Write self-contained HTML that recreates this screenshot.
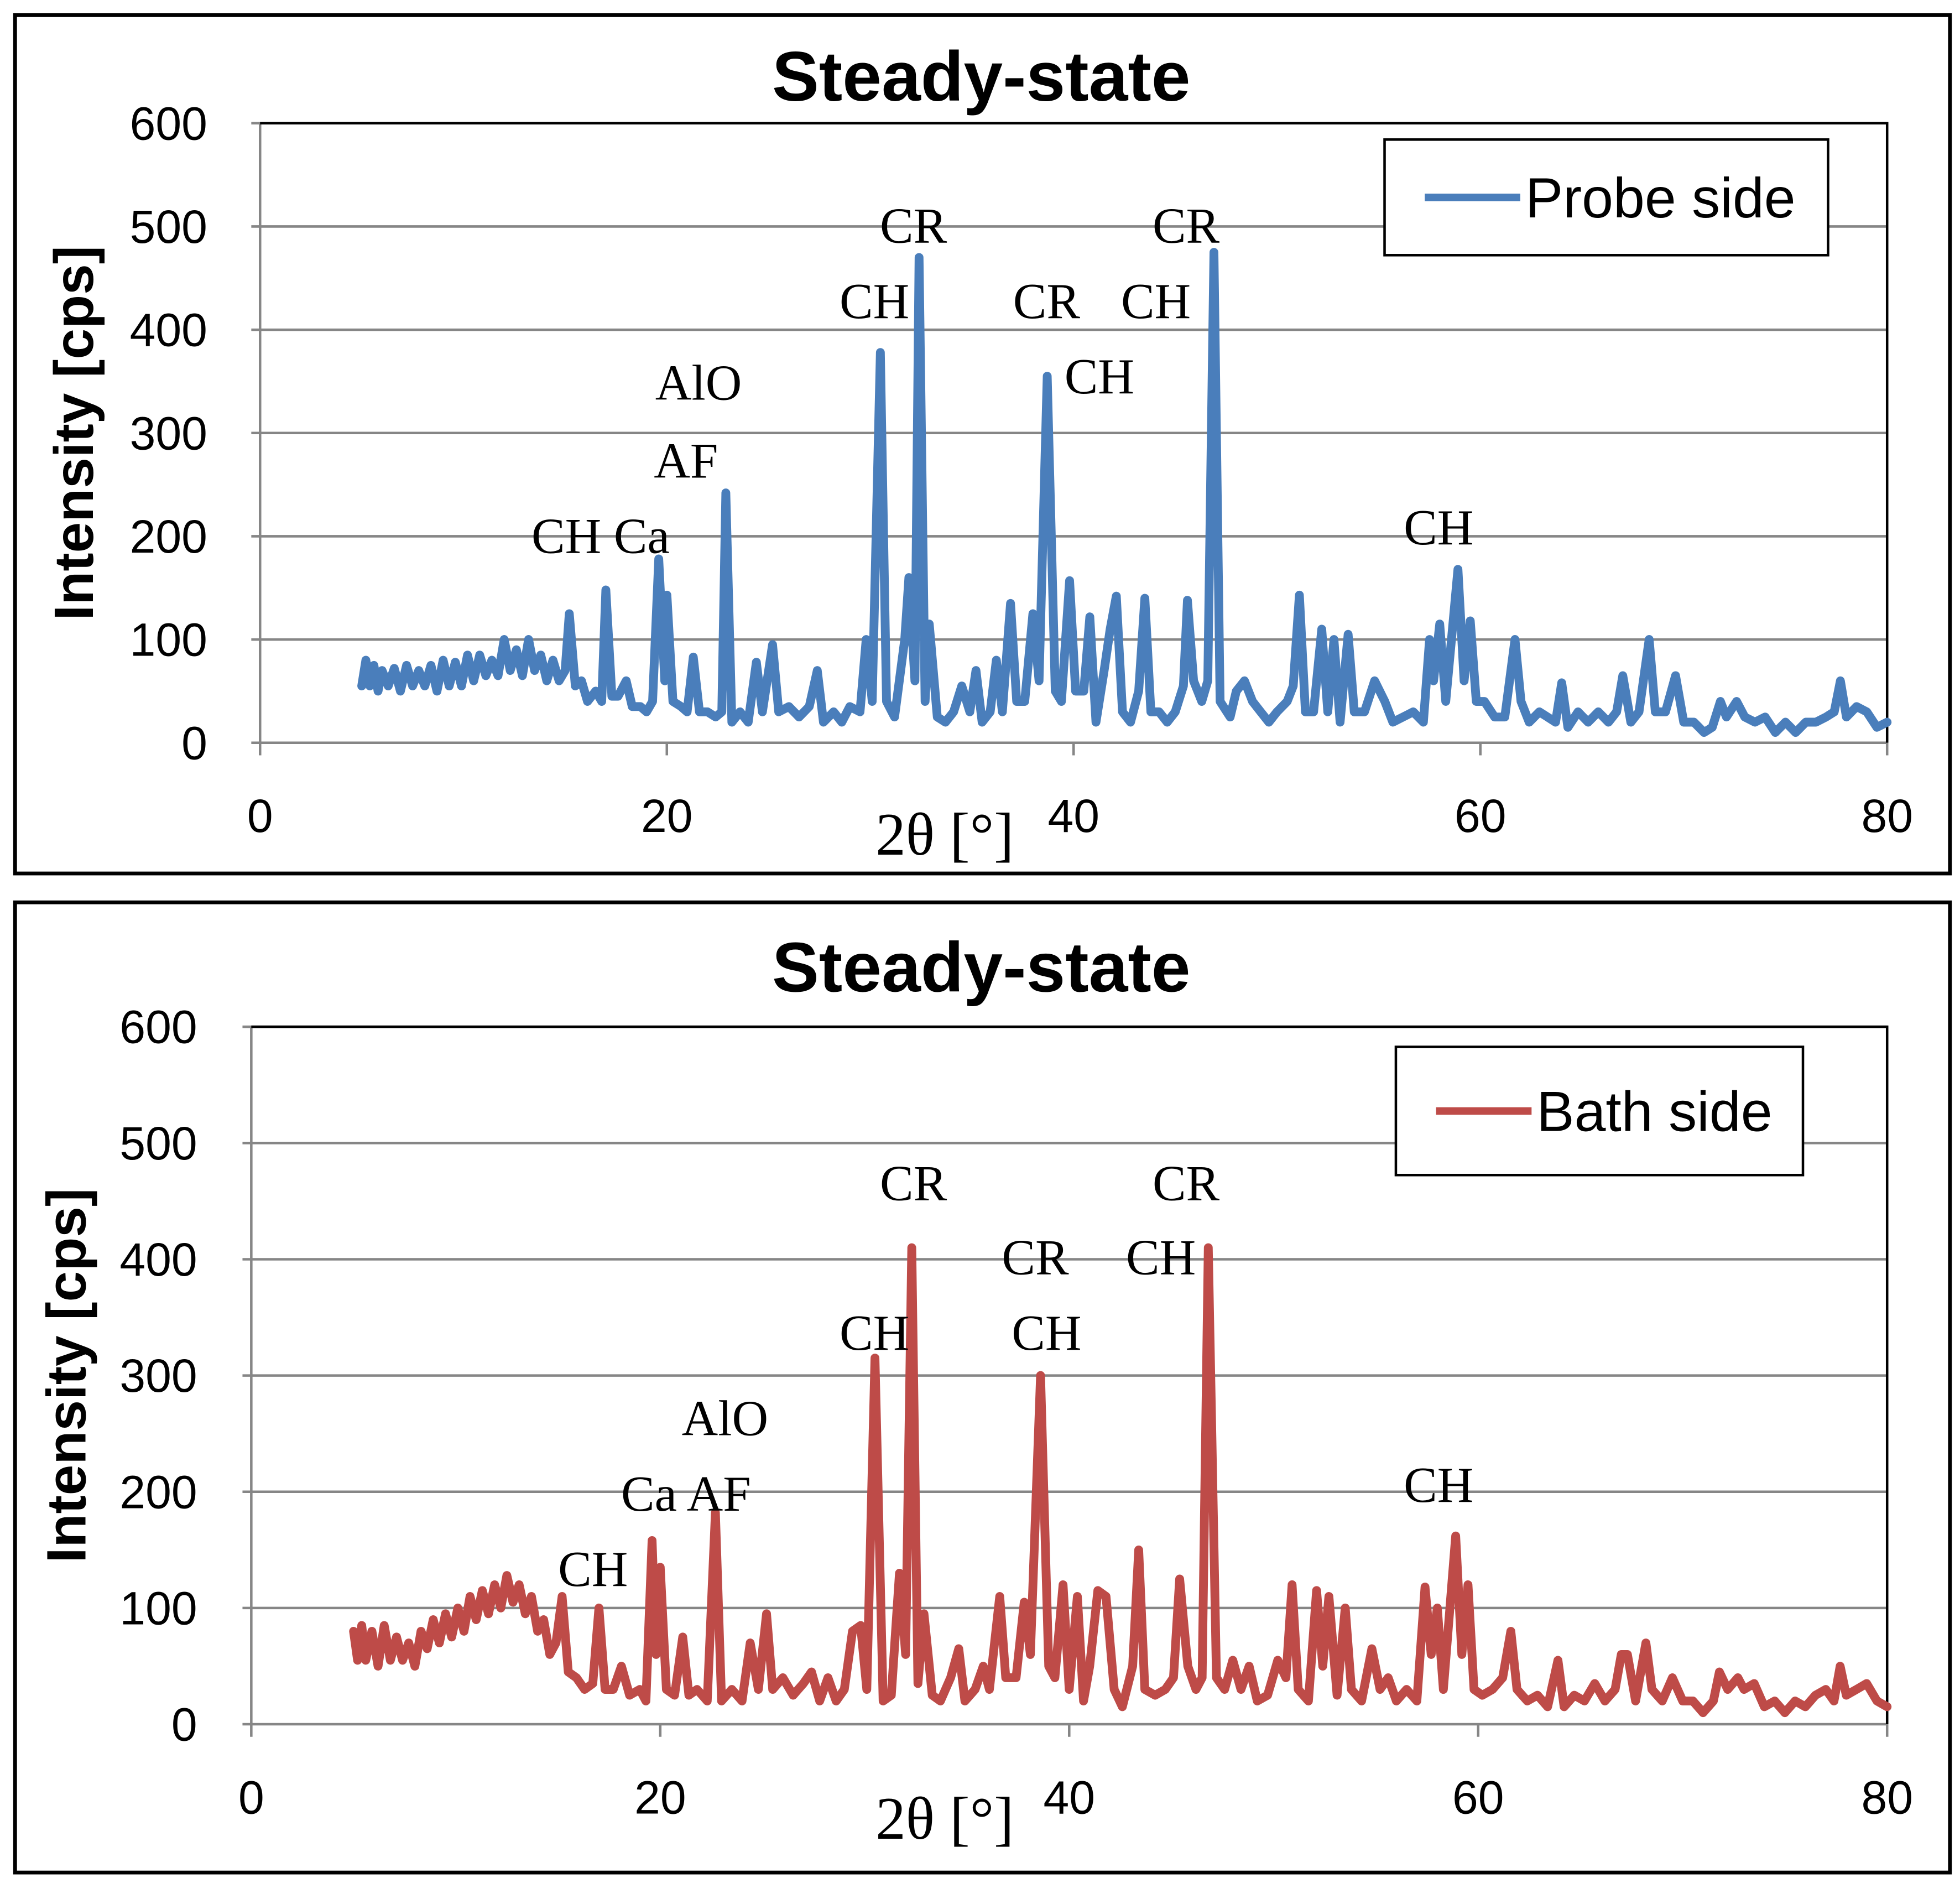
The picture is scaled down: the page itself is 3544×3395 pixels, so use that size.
<!DOCTYPE html>
<html><head><meta charset="utf-8"><style>html,body{margin:0;padding:0;background:#fff}svg{display:block}</style></head>
<body>
<svg id="chart" width="3544" height="3395" viewBox="0 0 1560 1494.3" xmlns="http://www.w3.org/2000/svg" font-family="Liberation Sans, sans-serif">
<rect x="12" y="12" width="1540" height="683" fill="#fff" stroke="#000" stroke-width="3"/>
<rect x="12" y="718" width="1540" height="772" fill="#fff" stroke="#000" stroke-width="3"/>
<g id="top"></g><g id="bot"></g>
</svg>
<script>
const yTicks=[0,100,200,300,400,500,600];
const xTicks=[0,20,40,60,80];
const probeX=[5,5.2,5.4,5.6,5.8,6,6.3,6.6,6.9,7.2,7.5,7.8,8.1,8.4,8.7,9,9.3,9.6,9.9,10.2,10.5,10.8,11.1,11.4,11.7,12,12.3,12.6,12.9,13.2,13.5,13.8,14.1,14.4,14.7,15,15.2,15.5,15.8,16.1,16.5,16.8,17,17.3,17.6,18,18.3,18.7,19,19.3,19.6,19.9,20,20.3,20.7,21,21.3,21.6,22,22.4,22.7,22.9,23.2,23.6,24,24.4,24.7,25.2,25.5,26,26.5,27,27.4,27.7,28.2,28.6,29,29.5,29.8,30.1,30.5,30.8,31.2,31.7,31.9,32.2,32.4,32.7,32.9,33.3,33.7,34.1,34.5,34.9,35.2,35.5,35.9,36.2,36.5,36.9,37.2,37.6,38,38.3,38.7,39.1,39.4,39.8,40.1,40.5,40.8,41.1,41.5,41.8,42.1,42.4,42.8,43.2,43.5,43.8,44.2,44.6,45,45.4,45.6,45.9,46.3,46.6,46.9,47.2,47.7,48,48.4,48.8,49.2,49.6,50,50.5,50.8,51.1,51.4,51.8,52.2,52.5,52.8,53.1,53.5,53.8,54.3,54.8,55.3,55.7,56.2,56.7,57.2,57.5,57.7,58,58.3,58.9,59.2,59.5,59.8,60.2,60.7,61.2,61.7,62,62.4,62.9,63.3,63.7,64,64.3,64.8,65.3,65.8,66.3,66.7,67,67.4,67.8,68.3,68.6,69.1,69.6,70,70.5,71,71.4,71.8,72.1,72.6,73,73.5,74,74.5,75,75.5,76,76.5,77,77.4,77.7,78,78.5,79,79.5,80];
const probeY=[55,80,55,75,50,70,55,72,50,75,55,70,55,75,50,80,55,78,55,85,60,85,65,80,65,100,70,90,65,100,70,85,60,80,60,70,125,55,60,40,50,40,148,45,45,60,35,35,30,40,178,60,143,40,35,30,83,30,30,25,30,242,20,30,20,78,30,95,30,35,25,35,70,20,30,20,35,30,100,40,378,40,25,100,160,60,470,40,115,25,20,30,55,30,70,20,30,80,30,135,40,40,125,60,355,50,40,157,50,50,122,20,70,110,142,30,20,50,140,30,30,20,30,55,138,60,40,60,475,40,25,50,60,40,30,20,30,40,55,143,30,30,110,30,100,20,105,30,30,60,40,20,25,30,20,100,60,115,40,168,60,118,40,40,25,25,100,40,20,30,25,20,58,15,30,20,30,20,30,65,20,30,100,30,30,65,20,20,10,15,40,25,40,25,20,25,10,20,10,20,20,25,30,60,25,35,30,15,20];
const bathX=[5,5.2,5.4,5.6,5.9,6.2,6.5,6.8,7.1,7.4,7.7,8,8.3,8.6,8.9,9.2,9.5,9.8,10.1,10.4,10.7,11,11.3,11.6,11.9,12.2,12.5,12.8,13.1,13.4,13.7,14,14.3,14.6,14.9,15.2,15.5,15.9,16.3,16.7,17,17.3,17.7,18.1,18.5,19,19.3,19.6,19.8,20,20.3,20.7,21.1,21.4,21.8,22.3,22.7,23,23.5,24,24.4,24.8,25.2,25.5,26,26.5,27,27.4,27.8,28.2,28.6,29,29.4,29.8,30.1,30.5,30.9,31.3,31.7,32,32.3,32.6,32.9,33.3,33.7,34.2,34.6,34.9,35.4,35.8,36.1,36.6,36.9,37.4,37.8,38.1,38.6,39,39.3,39.7,40,40.4,40.7,41,41.4,41.8,42.2,42.6,43.1,43.4,43.7,44.2,44.7,45.1,45.4,45.8,46.2,46.5,46.8,47.2,47.6,48,48.4,48.8,49.2,49.7,50.2,50.6,50.9,51.2,51.7,52.1,52.4,52.7,53.1,53.5,53.8,54.3,54.8,55.2,55.6,56,56.5,57,57.4,57.7,58,58.3,58.9,59.2,59.5,59.8,60.2,60.7,61.2,61.6,61.9,62.4,62.9,63.4,63.9,64.2,64.7,65.2,65.7,66.2,66.7,67,67.3,67.7,68.2,68.5,69,69.5,70,70.5,71,71.5,71.8,72.2,72.7,73,73.5,74,74.5,75,75.5,76,76.5,77,77.4,77.7,78,78.5,79,79.5,80];
const bathY=[80,55,85,55,80,50,85,55,75,55,70,50,80,65,90,70,95,75,100,80,110,90,115,95,120,100,128,105,120,95,110,80,90,60,70,110,45,40,30,35,100,30,30,50,25,30,20,158,60,135,30,25,75,25,30,20,182,20,30,20,70,30,95,30,40,25,35,45,20,40,20,30,80,85,30,315,20,25,130,60,410,35,95,25,20,40,65,20,30,50,30,110,40,40,105,60,300,50,40,120,30,110,20,50,115,110,30,15,50,150,30,25,30,40,125,50,30,40,410,40,30,55,30,50,20,25,55,40,120,30,20,115,50,110,25,100,30,20,65,30,40,20,30,20,118,60,100,30,162,60,120,30,25,30,40,80,30,20,25,15,55,15,25,20,35,20,30,60,60,20,70,30,20,40,20,20,10,20,45,30,40,30,35,15,20,10,20,15,25,30,20,50,25,30,35,20,15];
const probeLabels=[["CR",727,193],["CH",696,253],["CR",833,253],["CH",920,253],["CR",944,193],["CH",875,313],["AlO",556,318],["AF",546,380],["CH Ca",478,440],["CH",1145,433]];
const bathLabels=[["CR",727,955],["CR",944,955],["CR",824,1014],["CH",924,1014],["CH",696,1074],["CH",833,1074],["AlO",577,1142],["Ca AF",546,1202],["CH",472,1262],["CH",1145,1195]];
const NS="http://www.w3.org/2000/svg";
function mk(p,tag,at,txt){const e=document.createElementNS(NS,tag);for(const k in at)e.setAttribute(k,at[k]);if(txt!==undefined)e.textContent=txt;p.appendChild(e);return e;}
function panel(g,cfg){
  const sx=v=>cfg.x0+(cfg.x1-cfg.x0)*v/80, sy=v=>cfg.y0+(cfg.y6-cfg.y0)*v/600;
  for(const t of yTicks){
    const l=mk(g,'line',{x1:cfg.x0-7,x2:cfg.x1,y1:sy(t),y2:sy(t),stroke:'#868686','stroke-width':2});
    
    
    const tx=mk(g,'text',{x:cfg.ylx,y:sy(t)+13,'text-anchor':'end','font-size':37},String(t));
    
    
  }
  const ax=mk(g,'line',{x1:cfg.x0,x2:cfg.x0,y1:cfg.y6,y2:cfg.y0,stroke:'#868686','stroke-width':2});
  
  
  const fr=mk(g,'path',{d:`M${cfg.x0},${cfg.y6}H${cfg.x1}V${cfg.y0}`,fill:'none',stroke:'#000','stroke-width':2});
  
  
  for(const t of xTicks){
    const l=mk(g,'line',{x1:sx(t),x2:sx(t),y1:cfg.y0,y2:cfg.y0+10,stroke:'#868686','stroke-width':2});
    
    
    const tx=mk(g,'text',{x:sx(t),y:cfg.xly,'text-anchor':'middle','font-size':37},String(t));
    
    
  }
  const d=cfg.xs.map((x,i)=>(i?'L':'M')+sx(x).toFixed(1)+','+sy(cfg.ys[i]).toFixed(1)).join('');
  const p=mk(g,'path',{d,fill:'none',stroke:cfg.color,'stroke-width':7,'stroke-linejoin':'round','stroke-linecap':'round'});
  
  
  for(const [t,x,y] of cfg.labels){
    const e=mk(g,'text',{x,y,'text-anchor':'middle','font-size':40,'font-family':'Liberation Serif, serif'},t);
    
    
  }
  const ti=mk(g,'text',{x:781,y:cfg.ty,'text-anchor':'middle','font-size':56,'font-weight':'bold'},'Steady-state');
  
  
  const yl=mk(g,'text',{transform:`translate(${cfg.ytx},${(cfg.y0+cfg.y6)/2}) rotate(-90)`,'text-anchor':'middle','font-size':44,'font-weight':'bold'},'Intensity [cps]');
  
  
  const xl=mk(g,'text',{x:752,y:cfg.xty,'text-anchor':'middle','font-size':48,'font-family':'Liberation Serif, serif'},'2θ  [°]');
  
  
  const lb=mk(g,'rect',{x:cfg.lg[0],y:cfg.lg[1],width:cfg.lg[2],height:cfg.lg[3],fill:'#fff',stroke:'#000','stroke-width':2});
  
  
  const cy=cfg.lg[1]+cfg.lg[3]/2;
  const ll=mk(g,'line',{x1:cfg.lg[0]+32,x2:cfg.lg[0]+108,y1:cy,y2:cy,stroke:cfg.color,'stroke-width':6});
  
  
  const lt=mk(g,'text',{x:cfg.lg[0]+112,y:cy+16,'font-size':45},cfg.legend);
  
  
}
panel(document.getElementById('top'),{x0:207,x1:1502,y0:591,y6:98,ylx:165,xly:662,ty:80,ytx:74,xty:680,color:'#4a7ebb',xs:probeX,ys:probeY,labels:probeLabels,seriesName:'probe-side-series',legend:'Probe side',lg:[1102,111,353,92]});
panel(document.getElementById('bot'),{x0:200,x1:1502,y0:1372,y6:817,ylx:157,xly:1443,ty:789,ytx:68,xty:1463,color:'#be4b48',xs:bathX,ys:bathY,labels:bathLabels,seriesName:'bath-side-series',legend:'Bath side',lg:[1111,833,324,102]});
</script>
</body></html>
